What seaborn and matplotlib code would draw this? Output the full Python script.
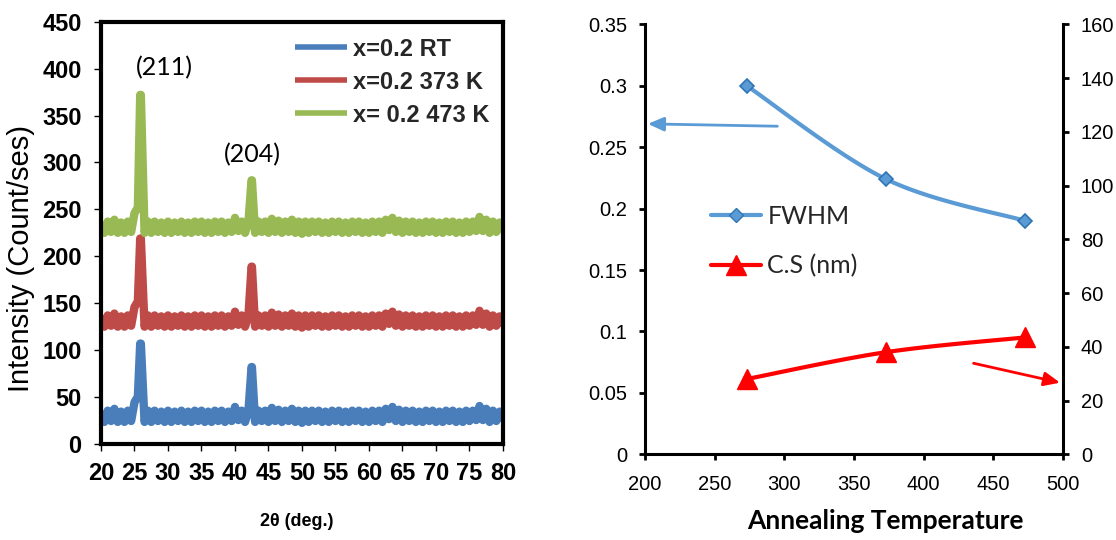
import numpy as np
import pandas as pd
import matplotlib
matplotlib.use("Agg")
import matplotlib.pyplot as plt
from matplotlib.ticker import FuncFormatter
from matplotlib.lines import Line2D
import seaborn as sns

# ---------------- data ----------------
# XRD patterns: 2theta grid (0.5 deg) and shared background fluctuation
two_theta_grid = np.round(np.arange(20.0, 80.001, 0.5), 2)
background_dev = [
    5, -6, 6, -5, 8, -6, 5, -6, 6, -5,        # 20.0 - 24.5
    15, 21, -9, -6, 6, -6, 6, -5, 5, -6,      # 25.0 - 29.5
    6, -6, 5, -5, 6, -6, 5, -6, 6, -5,        # 30.0 - 34.5
    6, -6, 5, -6, 6, -5, 6, -6, 5, -5,        # 35.0 - 39.5
    10, -4, 6, -6, 5, -5, -6, 6, -5, 6,       # 40.0 - 44.5
    -6, 9, -5, 7, -6, 6, -5, 8, -6, 6,        # 45.0 - 49.5
    -7, 6, -6, 6, -5, 6, -6, 5, -6, 6,        # 50.0 - 54.5
    -5, 6, -6, 5, -6, 6, -5, 6, -6, 5,        # 55.0 - 59.5
    -6, 6, -5, 6, -6, 8, -3, 10, -5, 7,       # 60.0 - 64.5
    -6, 6, -5, 6, -6, 5, -6, 6, -5, 6,        # 65.0 - 69.5
    -6, 5, -6, 6, -5, 6, -6, 5, -6, 6,        # 70.0 - 74.5
    -5, 6, -4, 11, -4, 8, -6, 6, -5, 5,       # 75.0 - 79.5
    -5,                                       # 80.0
]
series_labels = ["x=0.2 RT", "x=0.2 373 K", "x= 0.2 473 K"]
series_baseline = [29.5, 131, 231]
peak_211_theta = [25.85, 25.95]
peak_211_height = [107, 219, 372]
peak_204_theta = [42.47, 42.53]
peak_204_height = [82, 189, 281]
series_colors = ["#4A7EBB", "#BE4B48", "#98B954"]

# Annealing results
anneal_temp = [273, 373, 473]
fwhm = [0.300, 0.224, 0.190]
crystal_size = [28.0, 38.0, 43.5]

# ---------------- style ----------------
sns.set_theme(style="white")
plt.rcParams["font.family"] = ["Liberation Sans", "DejaVu Sans"]
plt.rcParams["axes.unicode_minus"] = False

fig = plt.figure(figsize=(11.16, 5.4), dpi=100)
ax1 = fig.add_axes([0.0905, 0.1778, 0.3602, 0.782])
ax2 = fig.add_axes([0.578, 0.1587, 0.3743, 0.7963])
ax3 = ax2.twinx()

# ---------------- left panel: XRD ----------------
grid = np.array(two_theta_grid)
dev = np.array(background_dev, dtype=float)
mask = (np.abs(grid - 25.9) > 0.12) & (np.abs(grid - 42.5) > 0.12)
for lab, base, p1, p2, col in zip(series_labels, series_baseline,
                                  peak_211_height, peak_204_height, series_colors):
    th = np.concatenate([grid[mask], peak_211_theta, peak_204_theta])
    yy = np.concatenate([base + dev[mask], [p1] * 2, [p2] * 2])
    order = np.argsort(th)
    df = pd.DataFrame({"theta": th[order], "I": yy[order]})
    sns.lineplot(data=df, x="theta", y="I", ax=ax1, color=col, lw=6,
                 sort=False, estimator=None, label=lab,
                 solid_joinstyle="round", solid_capstyle="butt")

ax1.set_xlim(20, 80)
ax1.set_ylim(0, 450)
ax1.set_xticks(np.arange(20, 81, 5))
ax1.set_yticks(np.arange(0, 451, 50))
for s in ax1.spines.values():
    s.set_visible(True)
    s.set_color("black")
    s.set_linewidth(3)
    s.set_zorder(5)
ax1.tick_params(axis="both", which="major", direction="out", length=5, width=1,
                color="black", labelsize=17, labelcolor="black", bottom=True, left=True)
ax1.tick_params(axis="y", pad=9)
ax1.tick_params(axis="x", pad=8)
for t in ax1.get_xticklabels() + ax1.get_yticklabels():
    t.set_fontweight("bold")

ax1.set_ylabel("Intensity (Count/ses)", fontsize=21, color="black")
ax1.yaxis.set_label_coords(-0.164, 0.439)
ax1.set_xlabel("2θ (deg.)", fontsize=13, fontweight="bold", color="black",
               family=["Liberation Sans Narrow", "Liberation Sans", "DejaVu Sans"])
ax1.xaxis.set_label_coords(0.487, -0.163)

leg1 = ax1.legend(loc="upper left", bbox_to_anchor=(0.4826, 0.962), frameon=False,
                  borderpad=0, borderaxespad=0, handlelength=2.2, handletextpad=0.25,
                  labelspacing=0.42, prop={"weight": "bold", "size": 17})
for h in leg1.get_lines():
    h.set_linewidth(4)

ax1.text(29.4, 401, "(211)", ha="center", va="center", fontsize=18,
         family=["Lato", "DejaVu Sans"], color="black")
ax1.text(42.6, 308, "(204)", ha="center", va="center", fontsize=18,
         family=["Lato", "DejaVu Sans"], color="black")

# ---------------- right panel: FWHM & crystallite size ----------------
def excel_smooth(xs, ys, xr, yr, w, h, n=40):
    p = np.column_stack([(np.asarray(xs) - xr[0]) / (xr[1] - xr[0]) * w,
                         (np.asarray(ys) - yr[0]) / (yr[1] - yr[0]) * h])
    out = []
    for i in range(len(p) - 1):
        p0 = p[i - 1] if i > 0 else p[i]
        p1, p2 = p[i], p[i + 1]
        p3 = p[i + 2] if i + 2 < len(p) else p[i + 1]
        c1 = p1 + (p2 - p0) / 6.0
        c2 = p2 - (p3 - p1) / 6.0
        t = np.linspace(0, 1, n)[:, None]
        seg = ((1 - t) ** 3) * p1 + 3 * ((1 - t) ** 2) * t * c1 + 3 * (1 - t) * t ** 2 * c2 + t ** 3 * p2
        out.append(seg if i == 0 else seg[1:])
    out = np.vstack(out)
    return (out[:, 0] / w * (xr[1] - xr[0]) + xr[0],
            out[:, 1] / h * (yr[1] - yr[0]) + yr[0])

fx, fy = excel_smooth(anneal_temp, fwhm, (200, 500), (0, 0.35), 417.7, 430)
cx, cy = excel_smooth(anneal_temp, crystal_size, (200, 500), (0, 160), 417.7, 430)

fwhm_color = "#5B9BD5"
sns.lineplot(x=fx, y=fy, ax=ax2, color=fwhm_color, lw=3, sort=False, estimator=None)
ax2.plot(anneal_temp, fwhm, ls="none", marker="D", ms=7, mfc=fwhm_color,
         mec="#2E75B6", mew=1.2, zorder=5)
sns.lineplot(x=cx, y=cy, ax=ax3, color="#FF0000", lw=3, sort=False, estimator=None)
ax3.plot(anneal_temp, crystal_size, ls="none", marker="^", ms=14, mfc="#FF0000",
         mec="#FF0000", zorder=5)

ax2.set_xlim(200, 500)
ax2.set_ylim(0, 0.35)
ax3.set_ylim(0, 160)
ax2.set_xticks(np.arange(200, 501, 50))
ax2.set_yticks(np.arange(0, 0.351, 0.05))
ax3.set_yticks(np.arange(0, 161, 20))
ax2.yaxis.set_major_formatter(FuncFormatter(lambda v, p: f"{round(v, 2):g}"))

for a in (ax2, ax3):
    a.spines["top"].set_visible(False)
ax2.spines["right"].set_visible(False)
for k in ("left", "bottom"):
    ax2.spines[k].set_visible(True)
    ax2.spines[k].set_color("black")
    ax2.spines[k].set_linewidth(2.2)
ax3.spines["left"].set_visible(False)
ax3.spines["bottom"].set_visible(False)
ax3.spines["right"].set_visible(True)
ax3.spines["right"].set_color("black")
ax3.spines["right"].set_linewidth(2.2)

ax2.tick_params(axis="both", direction="out", length=4, width=2, color="black",
                labelsize=14.5, labelcolor="black", left=True, bottom=True)
ax2.tick_params(axis="y", pad=9)
ax2.tick_params(axis="x", pad=11)
ax3.tick_params(axis="y", direction="out", length=4, width=2, color="black",
                labelsize=14.5, labelcolor="black", right=True, pad=9)
ax2.grid(False)
ax3.grid(False)

ax2.set_xlabel("Annealing Temperature", fontsize=19, fontweight="bold",
               family=["Lato", "DejaVu Sans"], color="black")
ax2.xaxis.set_label_coords(0.575, -0.128)

# legend (proxy handles)
h1 = Line2D([], [], color=fwhm_color, lw=3, marker="D", ms=7, mfc=fwhm_color, mec="#2E75B6")
h2 = Line2D([], [], color="#FF0000", lw=3, marker="^", ms=14, mfc="#FF0000", mec="#FF0000")
ax3.legend([h1, h2], ["FWHM", "C.S (nm)"], loc="upper left", bbox_to_anchor=(0.158, 0.58),
           frameon=False, borderpad=0, borderaxespad=0, handlelength=2.0, handletextpad=0.25,
           labelspacing=1.05, numpoints=1, prop={"family": ["Lato", "DejaVu Sans"], "size": 18})

# arrows
ax2.annotate("", xy=(200, 0.269), xytext=(297, 0.267),
             arrowprops=dict(arrowstyle="-|>,head_length=0.8,head_width=0.35",
                             color=fwhm_color, lw=2), annotation_clip=False)
ax2.annotate("", xy=(500, 0.0578), xytext=(434, 0.0746),
             arrowprops=dict(arrowstyle="-|>,head_length=0.8,head_width=0.35",
                             color="#FF0000", lw=2), annotation_clip=False)

fig.savefig("out.png", dpi=100)
